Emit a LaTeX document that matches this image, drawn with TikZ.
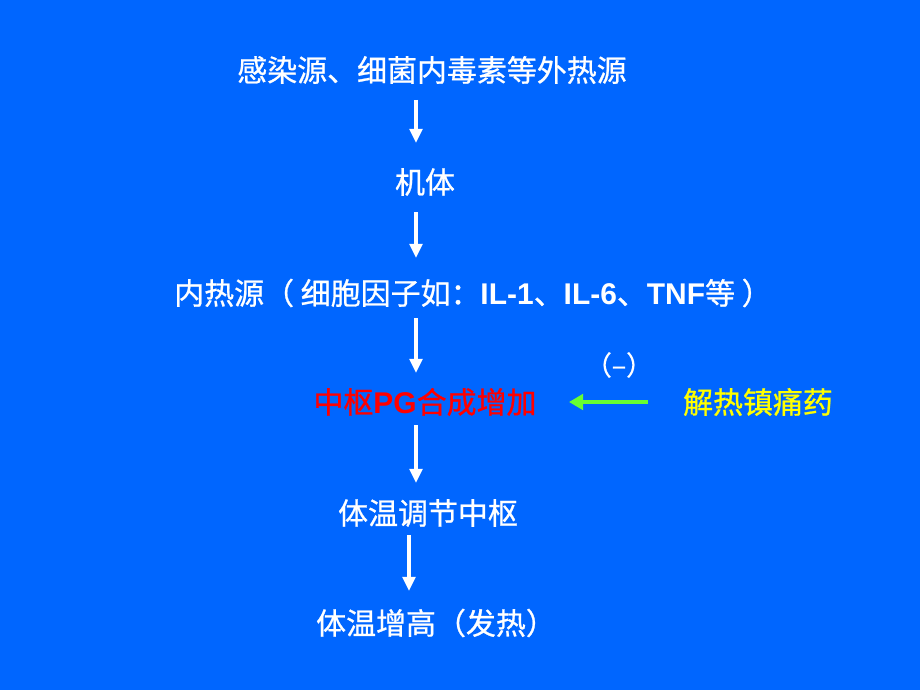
\documentclass[tikz,border=0pt]{standalone}
\usepackage{fontspec}
\setmainfont{Liberation Sans}
\newfontfamily\cjk[FakeBold=0.8]{Noto Sans CJK SC}
\usetikzlibrary{arrows.meta}
\definecolor{bgblue}{HTML}{0066FF}
\definecolor{arrgreen}{HTML}{66FF33}
\definecolor{txtred}{HTML}{FF0000}
\definecolor{txtyellow}{HTML}{FFFF00}
\tikzset{
  lbl/.style={inner sep=0pt, text=white, font=\fontsize{21.3}{26}\selectfont},
  flow/.style={draw=white, line width=2.2pt, -{Triangle[width=9pt,length=10pt]}},
  inhib/.style={draw=arrgreen, line width=3.2pt, -{Triangle[width=11pt,length=10pt]}},
}
\begin{document}
\begin{tikzpicture}[x=0.025cm,y=-0.025cm]
\fill[bgblue] (0,0) rectangle (920,690);
\node[lbl] (n1) at (432,70) {\cjk 感染源、细菌内毒素等外热源};
\node[lbl] (n2) at (425,182) {\cjk 机体};
\node[lbl] (n3) at (473,293) {{\cjk 内热源（ 细胞因子如：}\textbf{IL-1}{\cjk 、}\textbf{IL-6}{\cjk 、}\textbf{TNF}{\cjk 等 ）}};
\node[lbl, text=txtred] (n4) at (425,402) {{\cjk 中枢}\textbf{PG}{\cjk 合成增加}};
\node[lbl] (n5) at (428,513) {\cjk 体温调节中枢};
\node[lbl] (n6) at (436,623) {\cjk 体温增高（发热）};
\node[lbl, text=txtyellow] (drug) at (758,402) {\cjk 解热镇痛药};
\node[lbl, font=\fontsize{19}{22}\selectfont] (minus) at (619,365) {\cjk （–）};
\coordinate (a1s) at (416,100); \coordinate (a1e) at (416,143);
\coordinate (a2s) at (416,212); \coordinate (a2e) at (416,258);
\coordinate (a3s) at (416,318); \coordinate (a3e) at (416,373);
\coordinate (a4s) at (416,425); \coordinate (a4e) at (416,483);
\coordinate (a5s) at (409,535); \coordinate (a5e) at (409,591);
\coordinate (gs) at (648,402); \coordinate (ge) at (569,402);
\draw[flow] (a1s) -- (a1e);
\draw[flow] (a2s) -- (a2e);
\draw[flow] (a3s) -- (a3e);
\draw[flow] (a4s) -- (a4e);
\draw[flow] (a5s) -- (a5e);
\draw[inhib] (gs) -- (ge);
\end{tikzpicture}
\end{document}
